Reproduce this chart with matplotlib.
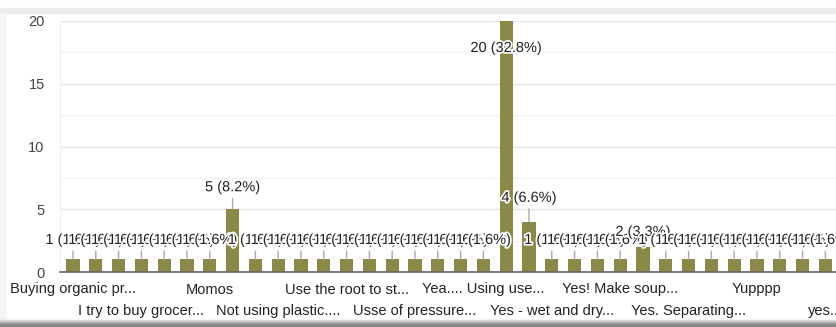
import matplotlib.pyplot as plt
import matplotlib.patheffects as pe
from matplotlib.patches import Rectangle

# responses per answer (61 in total)
counts = [1, 1, 1, 1, 1, 1, 1, 5, 1, 1, 1, 1, 1, 1, 1, 1, 1, 1, 1,
          20, 4, 1, 1, 1, 1, 2, 1, 1, 1, 1, 1, 1, 1, 1]

# only every third answer gets a label on the axis
shown_labels = ["Buying organic pr...", "I try to buy grocer...", "Momos",
                "Not using plastic....", "Use the root to st...", "Usse of pressure...",
                "Yea.... Using use...", "Yes - wet and dry...", "Yes! Make soup...",
                "Yes. Separating...", "Yupppp", "yes..."]
label_step = 3

y_ticks = [0, 5, 10, 15, 20]

bar_color = "#8a8948"
text_color = "#222222"
plt.rcParams["font.family"] = ["Liberation Sans", "DejaVu Sans"]

total = sum(counts)
xs = list(range(len(counts)))

fig = plt.figure(figsize=(8.37, 3.27), dpi=100)
ax = fig.add_axes([60 / 837, 55 / 327, 777 / 837, 251 / 327])

ax.bar(xs, counts, width=0.58, color=bar_color, zorder=2)
ax.set_xlim(-0.57, 33.51)
ax.set_ylim(0, 20)

# grid
ax.set_yticks(y_ticks)
ax.set_yticks([2.5, 7.5, 12.5, 17.5], minor=True)
ax.grid(axis="y", which="major", color="#e4e4e4", lw=1, zorder=0)
ax.grid(axis="y", which="minor", color="#f2f2f2", lw=1, zorder=0)
ax.tick_params(axis="y", which="both", length=0, pad=11, labelsize=10.5, labelcolor="#444444")
ax.set_xticks([])
for side in ["top", "right"]:
    ax.spines[side].set_visible(False)
ax.spines["left"].set_color("#eeeeee")
ax.spines["bottom"].set_color("#666666")
ax.spines["bottom"].set_linewidth(1.2)
ax.spines["bottom"].set_zorder(3)

# value annotations: "n (p%)" above bars, the tallest one inside its bar
lift = {7: 22, 20: 24, 25: 15}
halo = [pe.withStroke(linewidth=2.5, foreground="white")]
top = max(counts)
for i, v in enumerate(counts):
    txt = f"{v} ({v / total * 100:.1f}%)"
    if v == top:
        ax.annotate(txt, xy=(i, v), xytext=(0, -27), textcoords="offset pixels",
                    ha="center", va="center", fontsize=10.5, color=text_color,
                    path_effects=halo, zorder=4)
    else:
        ax.annotate(txt, xy=(i, v), xytext=(0, lift.get(i, 19.5)),
                    textcoords="offset pixels", ha="center", va="center",
                    fontsize=10.5, color=text_color, path_effects=halo, zorder=4,
                    arrowprops=dict(arrowstyle="-", color="#aaaaaa", lw=1,
                                    shrinkA=1, shrinkB=0))

# category labels in two staggered rows
for k, name in enumerate(shown_labels):
    row_off = -17.5 if k % 2 == 0 else -39
    ax.annotate(name, xy=(k * label_step, 0), xycoords=("data", "axes fraction"),
                xytext=(0, row_off), textcoords="offset pixels",
                ha="center", va="center", fontsize=10.5, color=text_color,
                annotation_clip=False)

# card edges around the chart
fig.patches.append(Rectangle((0, 314 / 327), 1, 5 / 327, transform=fig.transFigure,
                             color="#ebebeb", zorder=0))
fig.patches.append(Rectangle((0, 7 / 327), 6 / 837, 307 / 327, transform=fig.transFigure,
                             color="#f5f5f5", zorder=0))
for y0, h, c in [(5, 2, "#d6d6d6"), (3, 2, "#a9a9a9"), (0, 3, "#888888")]:
    fig.patches.append(Rectangle((0, y0 / 327), 1, h / 327, transform=fig.transFigure,
                                 color=c, zorder=0))

fig.savefig("out.png", dpi=100)
